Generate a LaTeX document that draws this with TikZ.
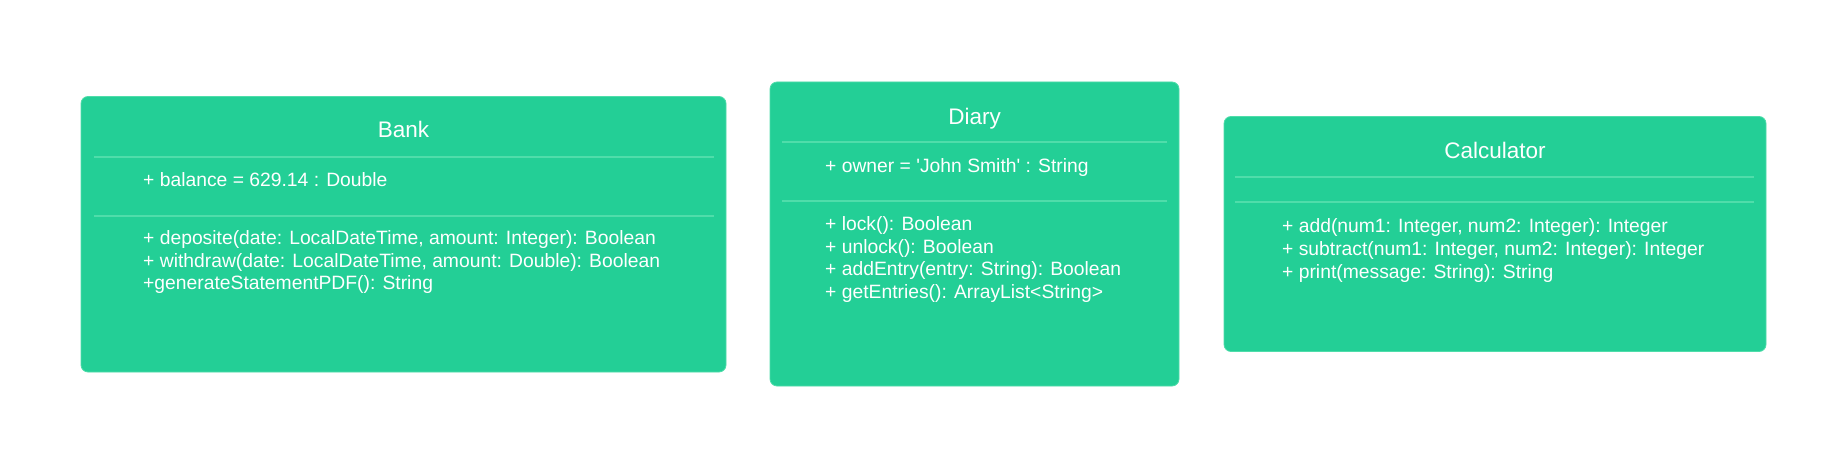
\documentclass[tikz,border=0pt]{standalone}
\usepackage{fontspec}
\setmainfont{Liberation Sans}
\definecolor{boxgreen}{HTML}{23CF96}
\definecolor{sepgreen}{HTML}{4FDDAA}
\begin{document}
\begin{tikzpicture}[x=1pt,y=-1pt,
  classbox/.style={fill=boxgreen, draw=sepgreen, line width=0.8pt, rounded corners=7pt, inner sep=0pt},
  titletext/.style={text=white, font=\fontsize{22.5}{26}\selectfont, anchor=base, inner sep=0pt},
  membertext/.style={text=white, font=\fontsize{19.3}{22.7}\selectfont, anchor=base west, inner sep=0pt},
  sepline/.style={draw=sepgreen, line width=1.8pt}]
\useasboundingbox (0,0) rectangle (1847,468);
\fill[white] (0,0) rectangle (1847,468);

% Bank
\node[classbox, minimum width=645pt, minimum height=275.5pt] (bank) at (403.5,234.25) {};
\node[titletext] (banktitle) at (403.5,137.6) {Bank};
\coordinate (bs1a) at (94,157); \coordinate (bs1b) at (714,157);
\coordinate (bs2a) at (94,215.7); \coordinate (bs2b) at (714,215.7);
\draw[sepline] (bs1a) -- (bs1b);
\draw[sepline] (bs2a) -- (bs2b);
\node[membertext] (bankattr) at (143,186) {+ balance = 629.14 : Double};
\node[membertext] (bankm1) at (143,244.5) {+ deposite(date: LocalDateTime, amount: Integer): Boolean};
\node[membertext] (bankm2) at (143,267.2) {+ withdraw(date: LocalDateTime, amount: Double): Boolean};
\node[membertext] (bankm3) at (143,289.9) {+generateStatementPDF(): String};

% Diary
\node[classbox, minimum width=409pt, minimum height=304pt] (diary) at (974.5,234) {};
\node[titletext] (diarytitle) at (974.5,124.5) {Diary};
\coordinate (ds1a) at (782,142.3); \coordinate (ds1b) at (1167,142.3);
\coordinate (ds2a) at (782,201); \coordinate (ds2b) at (1167,201);
\draw[sepline] (ds1a) -- (ds1b);
\draw[sepline] (ds2a) -- (ds2b);
\node[membertext] (diaryattr) at (825,172) {+ owner = \textquotesingle John Smith\textquotesingle{} : String};
\node[membertext] (diarym1) at (825,230.3) {+ lock(): Boolean};
\node[membertext] (diarym2) at (825,253) {+ unlock(): Boolean};
\node[membertext] (diarym3) at (825,275.7) {+ addEntry(entry: String): Boolean};
\node[membertext] (diarym4) at (825,298.4) {+ getEntries(): ArrayList<String>};

% Calculator
\node[classbox, minimum width=542pt, minimum height=235pt] (calc) at (1495,234) {};
\node[titletext] (calctitle) at (1495,158) {Calculator};
\coordinate (cs1a) at (1234.5,177); \coordinate (cs1b) at (1754,177);
\coordinate (cs2a) at (1234.5,202.3); \coordinate (cs2b) at (1754,202.3);
\draw[sepline] (cs1a) -- (cs1b);
\draw[sepline] (cs2a) -- (cs2b);
\node[membertext] (calcm1) at (1282,232.7) {+ add(num1: Integer, num2: Integer): Integer};
\node[membertext] (calcm2) at (1282,255.4) {+ subtract(num1: Integer, num2: Integer): Integer};
\node[membertext] (calcm3) at (1282,278.1) {+ print(message: String): String};
\end{tikzpicture}
\end{document}
